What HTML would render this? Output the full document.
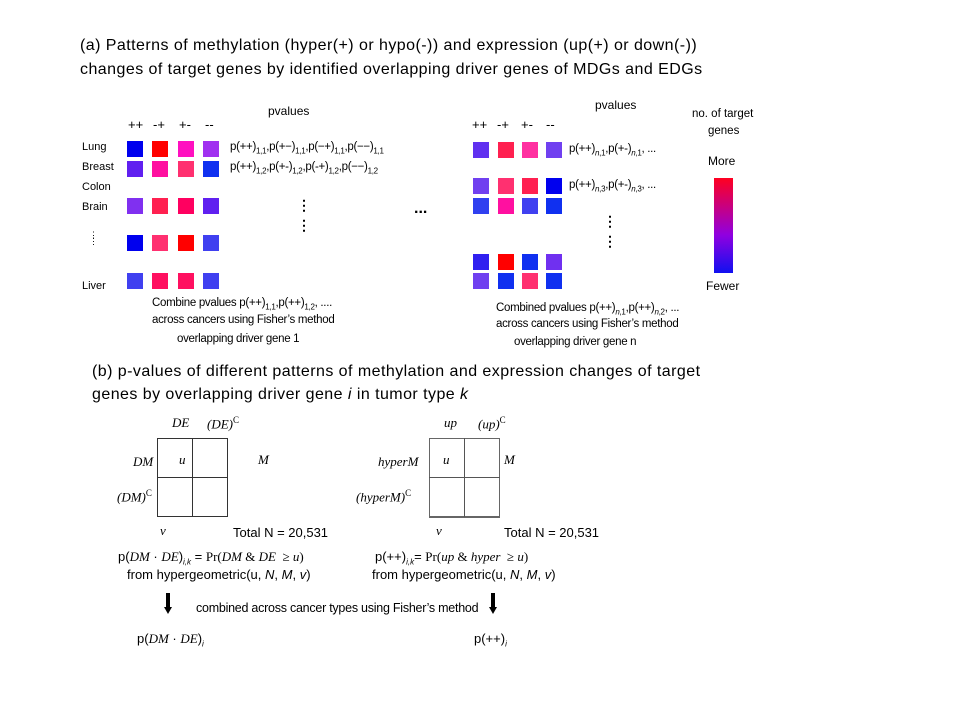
<!DOCTYPE html>
<html><head><meta charset="utf-8"><style>
body{margin:0;width:960px;height:720px;background:#fff;position:relative;overflow:hidden;font-family:"Liberation Sans",sans-serif;color:#000}
.t{position:absolute;white-space:nowrap}
.s{position:absolute;width:16px;height:16px}
.m{font-family:"Liberation Serif",serif;font-style:italic}
.ttl{font-size:16px;letter-spacing:0.45px}
.sm{font-size:11.5px;letter-spacing:-0.3px}
.cb{font-size:11.5px;letter-spacing:-0.3px}
.md{font-size:11px}
sub{font-size:8px}
.v{position:absolute;background:#000}
.h{position:absolute;font-size:13px}
</style></head><body>
<div class="t ttl" style="left:80px;top:37px">(a) Patterns of methylation (hyper(+) or hypo(-)) and expression (up(+) or down(-))</div>
<div class="t ttl" style="left:80px;top:61px">changes of target genes by identified overlapping driver genes of MDGs and EDGs</div>

<div class="t" style="left:268px;top:104px;font-size:12px">pvalues</div>
<div class="h" style="left:128px;top:117px">++</div><div class="h" style="left:153px;top:117px">-+</div><div class="h" style="left:179px;top:117px">+-</div><div class="h" style="left:205px;top:117px">--</div>
<div class="t md" style="left:82px;top:141px">Lung</div>
<div class="t md" style="left:82px;top:161px">Breast</div>
<div class="t md" style="left:82px;top:181px">Colon</div>
<div class="t md" style="left:82px;top:201px">Brain</div>
<div class="t md" style="left:89px;top:232px;line-height:6px;font-size:9px">⋮<br>⋮</div>
<div class="t md" style="left:82px;top:280px">Liver</div>

<div class="s" style="left:127px;top:141px;background:#0000ee"></div>
<div class="s" style="left:152px;top:141px;background:#ff0000"></div>
<div class="s" style="left:178px;top:141px;background:#ff10c0"></div>
<div class="s" style="left:203px;top:141px;background:#a030f0"></div>
<div class="s" style="left:127px;top:161px;background:#6020f0"></div>
<div class="s" style="left:152px;top:161px;background:#ff10a0"></div>
<div class="s" style="left:178px;top:161px;background:#ff3070"></div>
<div class="s" style="left:203px;top:161px;background:#1030f0"></div>
<div class="s" style="left:127px;top:198px;background:#8030f0"></div>
<div class="s" style="left:152px;top:198px;background:#ff2050"></div>
<div class="s" style="left:178px;top:198px;background:#ff0060"></div>
<div class="s" style="left:203px;top:198px;background:#6020f0"></div>
<div class="s" style="left:127px;top:235px;background:#0000ee"></div>
<div class="s" style="left:152px;top:235px;background:#ff3070"></div>
<div class="s" style="left:178px;top:235px;background:#ff0000"></div>
<div class="s" style="left:203px;top:235px;background:#4040f0"></div>
<div class="s" style="left:127px;top:273px;background:#4040f0"></div>
<div class="s" style="left:152px;top:273px;background:#ff1060"></div>
<div class="s" style="left:178px;top:273px;background:#ff1060"></div>
<div class="s" style="left:203px;top:273px;background:#4040f0"></div>

<div class="t sm" style="left:230px;top:141px">p(++)<sub>1,1</sub>,p(+−)<sub>1,1</sub>,p(−+)<sub>1,1</sub>,p(−−)<sub>1,1</sub></div>
<div class="t sm" style="left:230px;top:161px">p(++)<sub>1,2</sub>,p(+-)<sub>1,2</sub>,p(-+)<sub>1,2</sub>,p(−−)<sub>1,2</sub></div>
<div class="t" style="left:297px;top:200px;font-size:14px;line-height:10px;font-weight:bold">⋮<br>&nbsp;<br>⋮</div>
<div class="t" style="left:414px;top:200px;font-size:16px;font-weight:bold">...</div>
<div class="t cb" style="left:152px;top:297px">Combine pvalues p(++)<sub>1,1</sub>,p(++)<sub>1,2</sub>, ....</div>
<div class="t cb" style="left:152px;top:314px">across cancers using Fisher’s method</div>
<div class="t cb" style="left:177px;top:333px">overlapping driver gene 1</div>

<div class="t" style="left:595px;top:98px;font-size:12px">pvalues</div>
<div class="h" style="left:472px;top:117px">++</div><div class="h" style="left:497px;top:117px">-+</div><div class="h" style="left:521px;top:117px">+-</div><div class="h" style="left:546px;top:117px">--</div>
<div class="s" style="left:473px;top:142px;background:#6030f0"></div>
<div class="s" style="left:498px;top:142px;background:#ff2050"></div>
<div class="s" style="left:522px;top:142px;background:#ff30a0"></div>
<div class="s" style="left:546px;top:142px;background:#7040f0"></div>
<div class="s" style="left:473px;top:178px;background:#7040f0"></div>
<div class="s" style="left:498px;top:178px;background:#ff3070"></div>
<div class="s" style="left:522px;top:178px;background:#ff2050"></div>
<div class="s" style="left:546px;top:178px;background:#0000ee"></div>
<div class="s" style="left:473px;top:198px;background:#3040f0"></div>
<div class="s" style="left:498px;top:198px;background:#ff10a0"></div>
<div class="s" style="left:522px;top:198px;background:#4040f0"></div>
<div class="s" style="left:546px;top:198px;background:#1030f0"></div>
<div class="s" style="left:473px;top:254px;background:#3020f0"></div>
<div class="s" style="left:498px;top:254px;background:#ff0000"></div>
<div class="s" style="left:522px;top:254px;background:#1030f0"></div>
<div class="s" style="left:546px;top:254px;background:#7030f0"></div>
<div class="s" style="left:473px;top:273px;background:#7040f0"></div>
<div class="s" style="left:498px;top:273px;background:#1030f0"></div>
<div class="s" style="left:522px;top:273px;background:#ff3070"></div>
<div class="s" style="left:546px;top:273px;background:#1030f0"></div>
<div class="t sm" style="left:569px;top:143px">p(++)<sub><i>n</i>,1</sub>,p(+-)<sub><i>n</i>,1</sub>, ...</div>
<div class="t sm" style="left:569px;top:179px">p(++)<sub><i>n</i>,3</sub>,p(+-)<sub><i>n</i>,3</sub>, ...</div>
<div class="t" style="left:603px;top:216px;font-size:14px;line-height:10px;font-weight:bold">⋮<br>&nbsp;<br>⋮</div>
<div class="t cb" style="left:496px;top:302px">Combined pvalues p(++)<sub><i>n</i>,1</sub>,p(++)<sub><i>n</i>,2</sub>, ...</div>
<div class="t cb" style="left:496px;top:318px">across cancers using Fisher’s method</div>
<div class="t cb" style="left:514px;top:336px">overlapping driver gene n</div>

<div class="t" style="left:692px;top:108px;font-size:11.5px">no. of target</div>
<div class="t" style="left:708px;top:125px;font-size:11.5px">genes</div>
<div class="t" style="left:708px;top:154px;font-size:12px">More</div>
<div style="position:absolute;left:714px;top:178px;width:19px;height:95px;background:linear-gradient(#ff0020,#9000e0 60%,#1010f0)"></div>
<div class="t" style="left:706px;top:279px;font-size:12px">Fewer</div>

<div class="t ttl" style="left:92px;top:363px">(b) p-values of different patterns of methylation and expression changes of target</div>
<div class="t ttl" style="left:92px;top:386px">genes by overlapping driver gene <i>i</i> in tumor type <i>k</i></div>

<div style="position:absolute;left:157px;top:438px;width:69px;height:77px;border:1px solid #333"></div>
<div class="v" style="left:192px;top:438px;width:1px;height:79px;background:#333"></div>
<div class="v" style="left:157px;top:477px;width:71px;height:1px;background:#333"></div>
<div class="t m" style="left:172px;top:415px;font-size:13px">DE</div>
<div class="t m" style="left:207px;top:415px;font-size:13px">(DE)<sup style="font-style:normal;font-size:9px">C</sup></div>
<div class="t m" style="left:133px;top:454px;font-size:13px">DM</div>
<div class="t m" style="left:179px;top:452px;font-size:13px">u</div>
<div class="t m" style="left:258px;top:452px;font-size:13px">M</div>
<div class="t m" style="left:117px;top:488px;font-size:13px">(DM)<sup style="font-style:normal;font-size:9px">C</sup></div>
<div class="t m" style="left:160px;top:523px;font-size:13px">v</div>
<div class="t" style="left:233px;top:525px;font-size:13px">Total N = 20,531</div>
<div class="t" style="left:118px;top:549px;font-size:13px">p(<span class="m">DM</span> · <span class="m">DE</span>)<sub><i>i,k</i></sub> = <span style="font-family:'Liberation Serif'">Pr(<i>DM</i> &amp; <i>DE</i> &nbsp;≥ <i>u</i>)</span></div>
<div class="t" style="left:127px;top:567px;font-size:13px">from hypergeometric(u, <i>N</i>, <i>M</i>, <i>v</i>)</div>

<div style="position:absolute;left:429px;top:438px;width:69px;height:77px;border:1px solid #666;border-width:1px 1px 2px 1px"></div>
<div class="v" style="left:464px;top:438px;width:1px;height:79px;background:#555"></div>
<div class="v" style="left:429px;top:477px;width:71px;height:1px;background:#555"></div>
<div class="t m" style="left:444px;top:415px;font-size:13px">up</div>
<div class="t m" style="left:478px;top:415px;font-size:13px">(up)<sup style="font-style:normal;font-size:9px">C</sup></div>
<div class="t m" style="left:378px;top:454px;font-size:13px">hyperM</div>
<div class="t m" style="left:443px;top:452px;font-size:13px">u</div>
<div class="t m" style="left:504px;top:452px;font-size:13px">M</div>
<div class="t m" style="left:356px;top:488px;font-size:13px">(hyperM)<sup style="font-style:normal;font-size:9px">C</sup></div>
<div class="t m" style="left:436px;top:523px;font-size:13px">v</div>
<div class="t" style="left:504px;top:525px;font-size:13px">Total N = 20,531</div>
<div class="t" style="left:375px;top:549px;font-size:13px">p(++)<sub><i>i,k</i></sub>= <span style="font-family:'Liberation Serif'">Pr(<i>up</i> &amp; <i>hyper</i> &nbsp;≥ <i>u</i>)</span></div>
<div class="t" style="left:372px;top:567px;font-size:13px">from hypergeometric(u, <i>N</i>, <i>M</i>, <i>v</i>)</div>

<div class="v" style="left:166px;top:593px;width:4px;height:16px"></div>
<div style="position:absolute;left:164px;top:607px;width:0;height:0;border-left:4px solid transparent;border-right:4px solid transparent;border-top:7px solid #000"></div>
<div class="v" style="left:491px;top:593px;width:4px;height:16px"></div>
<div style="position:absolute;left:489px;top:607px;width:0;height:0;border-left:4px solid transparent;border-right:4px solid transparent;border-top:7px solid #000"></div>
<div class="t" style="left:196px;top:601px;font-size:12.5px;letter-spacing:-0.25px">combined across cancer types using Fisher’s method</div>
<div class="t" style="left:137px;top:631px;font-size:13px">p(<span class="m">DM</span> · <span class="m">DE</span>)<sub><i>i</i></sub></div>
<div class="t" style="left:474px;top:631px;font-size:13px">p(++)<sub><i>i</i></sub></div>
</body></html>
